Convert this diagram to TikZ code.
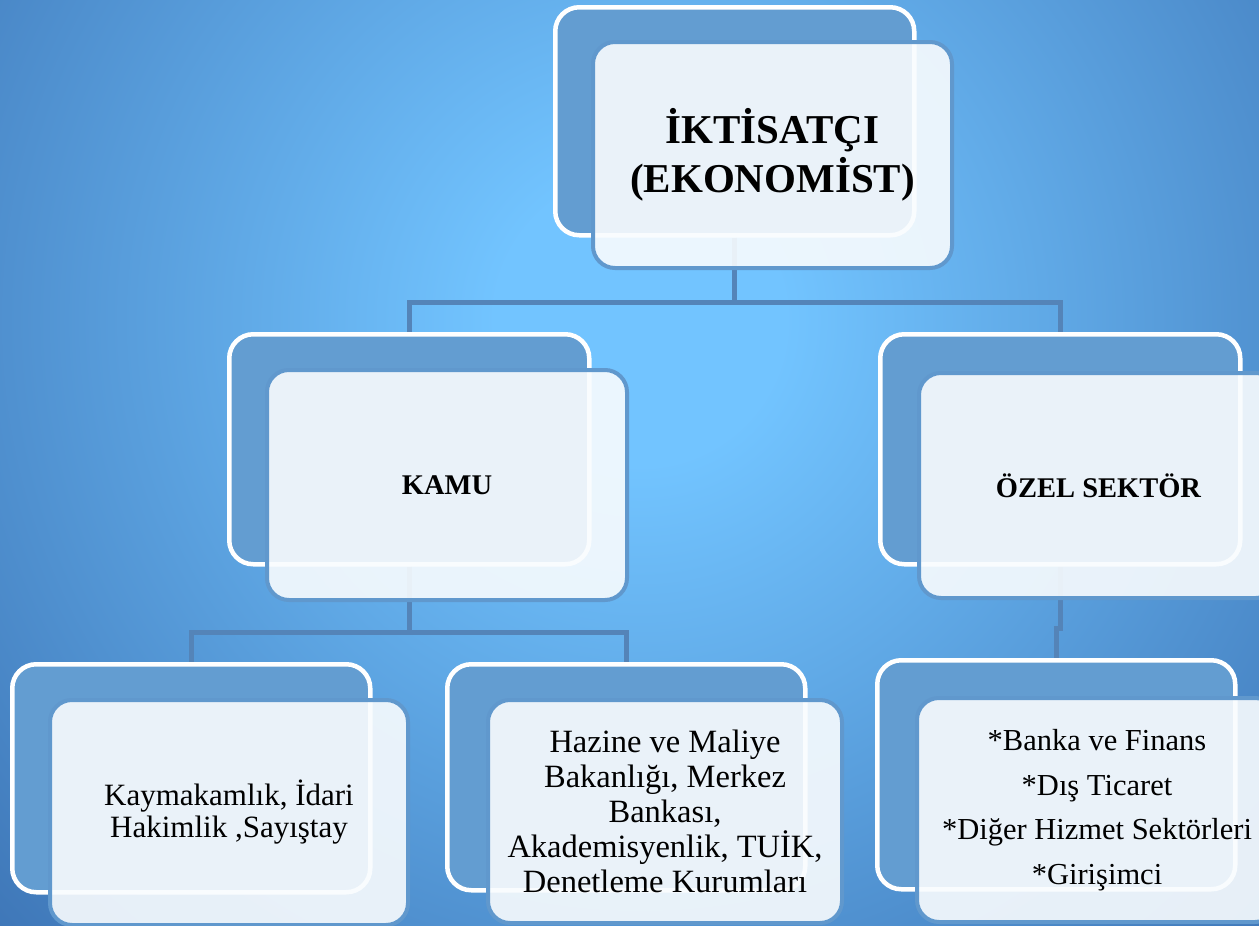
\documentclass[tikz,border=0pt]{standalone}
\usepackage{fontspec}
\setmainfont{Liberation Serif}
\definecolor{bgA}{RGB}{114,196,255}
\definecolor{bgB}{RGB}{54,106,172}
\definecolor{backblue}{RGB}{99,157,209}
\definecolor{frontfill}{RGB}{249,252,254}
\definecolor{frontline}{RGB}{96,152,205}
\definecolor{connblue}{RGB}{84,132,184}
\pgfdeclareradialshading{bgrad}{\pgfpoint{0bp}{0bp}}{color(0bp)=(bgA); color(3bp)=(bgA); color(21bp)=(bgB); color(50bp)=(bgB)}
\tikzset{
  backbox/.style={draw=white, line width=4.5pt, fill=backblue, rounded corners=24pt, anchor=north west, inner sep=0pt},
  frontbox/.style={draw=frontline, line width=4pt, fill=frontfill, fill opacity=0.9, text opacity=1, rounded corners=22pt, anchor=center, align=center, inner sep=0pt, text=black},
  conn/.style={draw=connblue, line width=5pt},
  bigtitle/.style={font=\fontsize{41}{49}\selectfont\bfseries},
  midtitle/.style={font=\fontsize{28.5}{34}\selectfont\bfseries},
}
\begin{document}
\begin{tikzpicture}[x=1pt,y=-1pt]
\useasboundingbox (0,0) rectangle (1259,926);
\clip (0,0) rectangle (1259,926);
\fill[bgB] (0,0) rectangle (1259,926);
\shade[shading=bgrad] (640,320) circle (1200pt);
% back boxes
\node[backbox, minimum width=359pt, minimum height=228pt] (topB) at (553,5) {};
\node[backbox, minimum width=360pt, minimum height=230pt] (kamuB) at (227,332) {};
\node[backbox, minimum width=360pt, minimum height=230pt] (ozelB) at (878,332) {};
\node[backbox, minimum width=358pt, minimum height=228pt] (lbB) at (10,662) {};
\node[backbox, minimum width=358pt, minimum height=226pt] (mbB) at (445,662) {};
\node[backbox, minimum width=358pt, minimum height=229pt] (rbB) at (875,658) {};
% connectors
\draw[conn] (topB.south) -- ++(0,65) -| (kamuB.north);
\draw[conn] (topB.south) -- ++(0,65) -| (ozelB.north);
\draw[conn] (kamuB.south) -- ++(0,66) -| (lbB.north);
\draw[conn] (kamuB.south) -- ++(0,66) -| (mbB.north);
\draw[conn] (ozelB.south) -- ++(0,62) -| (rbB.north);
% front boxes
\node[frontbox, minimum width=359pt, minimum height=226pt, bigtitle] (topF) at (772.5,155) {İKTİSATÇI\\(EKONOMİST)};
\node[frontbox, minimum width=360pt, minimum height=230pt, midtitle] (kamuF) at (447,485) {KAMU};
\node[frontbox, minimum width=359pt, minimum height=225pt, midtitle] (ozelF) at (1098.5,485.5) {ÖZEL SEKTÖR};
\node[frontbox, minimum width=358pt, minimum height=225pt, font=\fontsize{31}{32}\selectfont] (lbF) at (229,812.5) {Kaymakamlık, İdari\\Hakimlik ,Sayıştay};
\node[frontbox, minimum width=354pt, minimum height=223pt, font=\fontsize{32.5}{35}\selectfont] (mbF) at (665,811.5) {Hazine ve Maliye\\Bakanlığı, Merkez\\Bankası,\\Akademisyenlik, TUİK,\\Denetleme Kurumları};
\node[frontbox, minimum width=360pt, minimum height=224pt, font=\fontsize{30.5}{44.5}\selectfont] (rbF) at (1097,810) {*Banka ve Finans\\*Dış Ticaret\\*Diğer Hizmet Sektörleri\\*Girişimci};
\end{tikzpicture}
\end{document}
